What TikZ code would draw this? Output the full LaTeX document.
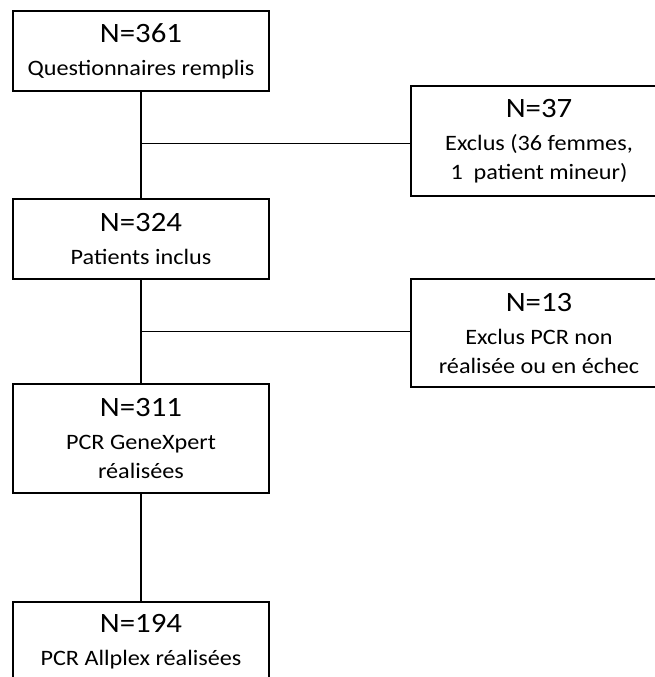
\documentclass[tikz,border=0pt]{standalone}
\usepackage{fontspec}
\setmainfont[FakeStretch=1.1]{Carlito}
\usepackage{tikz}
\usetikzlibrary{positioning,calc}
\newcommand{\nbig}[1]{{\fontsize{28}{32}\selectfont #1}}
\tikzset{
	box/.style={draw, line width=1.2pt, minimum width=256pt, align=center,
		inner sep=0pt, font=\fontsize{22}{29}\selectfont},
	link/.style={line width=1.2pt},
}
\begin{document}
\begin{tikzpicture}[x=1pt, y=-1pt]
	\clip (0,0) rectangle (655,677);
	\node[box, minimum height=80pt] at (141,51) (quest) {\nbig{N=361}\\[4pt]Questionnaires remplis};
	\node[box, minimum height=80pt] at (141,239) (incl) {\nbig{N=324}\\[4pt]Patients inclus};
	\node[box, minimum height=110pt] at (539,141) (excl1) {\nbig{N=37}\\[4pt]Exclus (36 femmes,\\1~~patient mineur)};
	\node[box, minimum height=108pt] at (539,333) (excl2) {\nbig{N=13}\\[4pt]Exclus PCR non\\réalisée ou en échec};
	\node[box, minimum height=109pt] at (141,438.5) (gxp) {\nbig{N=311}\\[4pt]PCR GeneXpert\\réalisées};
	\node[box, minimum height=80pt] at (141,642) (allp) {\nbig{N=194}\\[4pt]PCR Allplex réalisées};
	\coordinate (j1) at ($(quest.south)+(0,52)$);
	\coordinate (j2) at ($(incl.south)+(0,52)$);
	\draw[link] (quest) -- (incl);
	\draw[link] (incl) -- (gxp);
	\draw[link] (gxp) -- (allp);
	\draw[link] (j1) -- (j1 -| excl1.west);
	\draw[link] (j2) -- (j2 -| excl2.west);
\end{tikzpicture}
\end{document}
